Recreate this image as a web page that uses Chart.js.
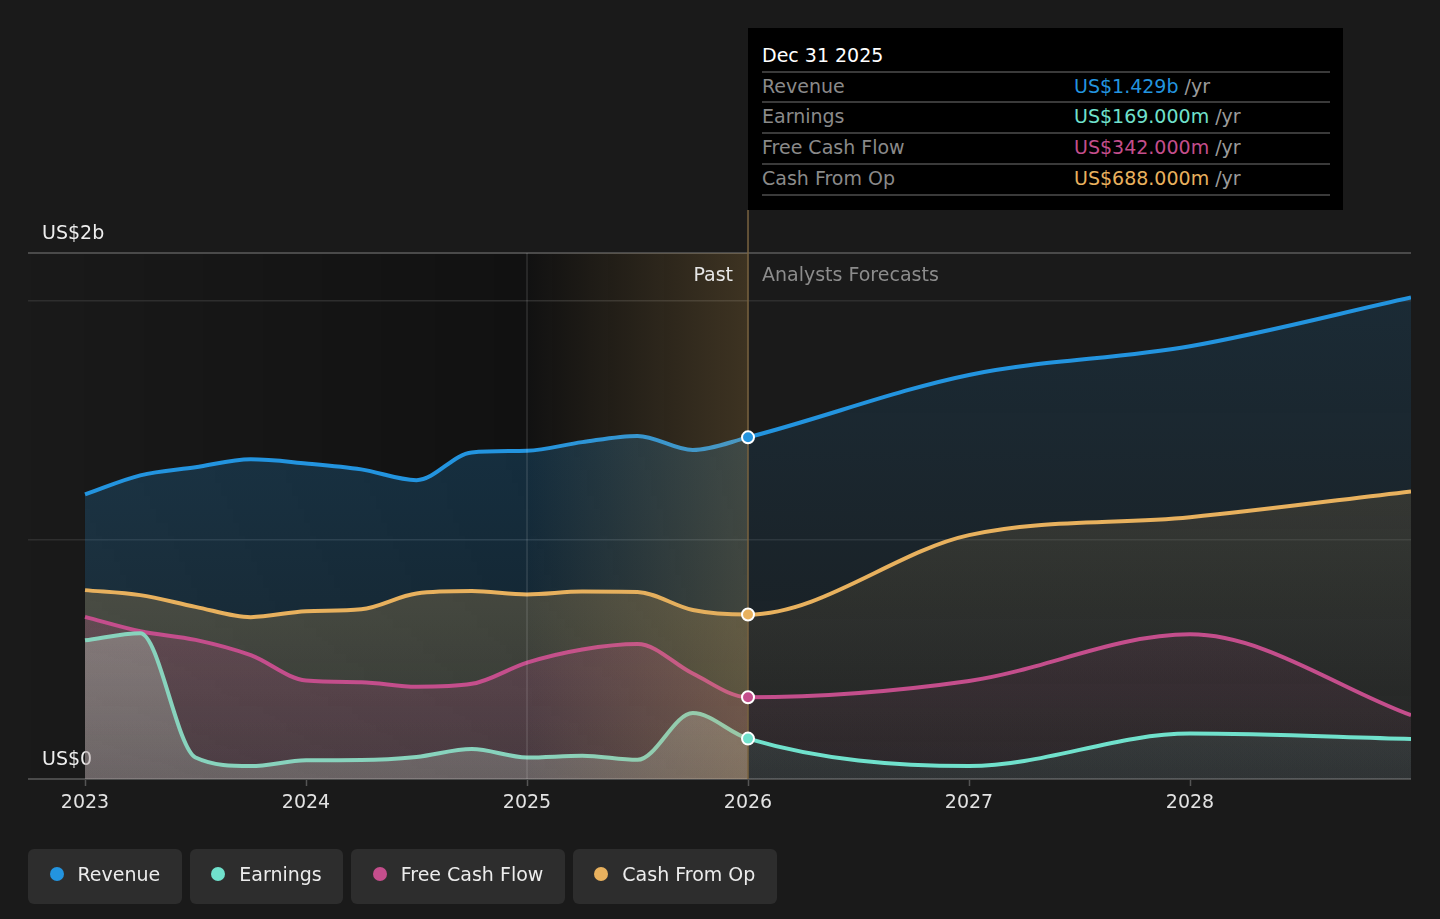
<!DOCTYPE html>
<html>
<head>
<meta charset="utf-8">
<script src="https://cdn.jsdelivr.net/npm/chart.js@4.4.1/dist/chart.umd.min.js"></script>
<style>
  html, body { margin:0; padding:0; background:#1a1a1a; width:1440px; height:919px; overflow:hidden; font-family:"DejaVu Sans", sans-serif; }
  #wrap { position:relative; width:1440px; height:919px; }
  #c { position:absolute; left:0; top:0; }
  .lbl { position:absolute; height:24px; line-height:24px; font-size:19px; white-space:nowrap; }
  #tip { position:absolute; left:748px; top:28px; width:595px; height:182px; background:#000; }
  #tip .sep { position:absolute; left:14px; width:568px; height:2px; background:#3a3a3a; }
  #tip .name { color:#8a8a8a; }
  #tip .unit { color:#9a9a9a; }
  #legend { position:absolute; left:28px; top:849px; display:flex; gap:8px; }
  .item { height:55px; box-sizing:border-box; display:flex; align-items:center; padding:0 21.5px 5px 21.5px; background:#2d2d2d; border-radius:6px; color:#ececec; font-size:19px; }
  .dot { width:14px; height:14px; border-radius:50%; margin-right:14px; }
</style>
</head>
<body>
<div id="wrap">
  <canvas id="c" width="1440" height="919"></canvas>
  <div class="lbl" id="pastLbl" style="right:707px; top:262px; color:#e6e6e6;">Past</div>
  <div class="lbl" id="foreLbl" style="left:762px; top:262px; color:#8c8c8c;">Analysts Forecasts</div>
  <div id="tip"></div>
  <div id="legend"></div>
</div>
<script>
// ---------- data (US$ billions) ----------
const periods      = [2023, 2023.25, 2023.5, 2023.75, 2024, 2024.25, 2024.5, 2024.75, 2025, 2025.25, 2025.5, 2025.75, 2026, 2027, 2028, 2029];
const revenue      = [1.19, 1.27, 1.304, 1.337, 1.32, 1.295, 1.25, 1.366, 1.373, 1.409, 1.435, 1.376, 1.429, 1.69, 1.81, 2.014];
const earnings     = [0.58, 0.61, 0.09, 0.054, 0.078, 0.079, 0.092, 0.125, 0.09, 0.097, 0.08, 0.276, 0.169, 0.054, 0.19, 0.167];
const freeCashFlow = [0.678, 0.618, 0.582, 0.518, 0.412, 0.405, 0.386, 0.398, 0.487, 0.542, 0.565, 0.441, 0.342, 0.41, 0.605, 0.267];
const cashFromOp   = [0.79, 0.769, 0.72, 0.677, 0.702, 0.71, 0.776, 0.786, 0.772, 0.784, 0.782, 0.707, 0.688, 1.02, 1.095, 1.203];
const seriesNames  = ['Revenue', 'Earnings', 'Free Cash Flow', 'Cash From Op'];
const xTicks       = [2023, 2024, 2025, 2026, 2027, 2028];
const yTicks       = [0, 1, 2, 2.2];
const yTickLabels  = { 0: 'US$0', 2.2: 'US$2b' };
const pastStart    = 2025;
const forecastStart = 2026;
const tooltipDate  = 'Dec 31 2025';

// ---------- styles ----------
const colors = { 'Revenue':'#2394df', 'Earnings':'#70e1cc', 'Free Cash Flow':'#c44e8c', 'Cash From Op':'#e8b15e' };
const pastLineColors = { 'Earnings':'#88d3bd' };
const fillSpec = {
  'Revenue':        { past:[35,148,223], pt:0.28, pb:0.12, fore:[35,148,223], ft:0.15, fb:0.04 },
  'Cash From Op':   { past:[232,177,94], pt:0.38, pb:0.14, fore:[232,177,94], ft:0.2,  fb:0.04 },
  'Free Cash Flow': { past:[196,78,140], pt:0.36, pb:0.15, fore:[196,78,140], ft:0.2,  fb:0.06 },
  'Earnings':       { past:[196,210,196], pt:0.56, pb:0.26, fore:[112,225,204], ft:0.2,  fb:0.07 }
};
const orders = { 'Revenue':4, 'Cash From Op':3, 'Free Cash Flow':2, 'Earnings':1 };
const valuesByName = { 'Revenue':revenue, 'Earnings':earnings, 'Free Cash Flow':freeCashFlow, 'Cash From Op':cashFromOp };

const rgba = (c, a) => `rgba(${c[0]},${c[1]},${c[2]},${a})`;
const patternCache = {};
function makeFill(chart, name) {
  const a = chart.chartArea;
  if (!a || !chart.scales.x) return 'rgba(0,0,0,0)';
  const key = name + a.left + a.top + a.right + a.bottom;
  if (patternCache[key]) return patternCache[key];
  const s = fillSpec[name];
  const c = document.createElement('canvas');
  c.width = chart.width; c.height = chart.height;
  const g = c.getContext('2d');
  const xs = chart.scales.x.getPixelForValue(forecastStart);
  const gp = g.createLinearGradient(0, a.top, 0, a.bottom);
  gp.addColorStop(0, rgba(s.past, s.pt)); gp.addColorStop(1, rgba(s.past, s.pb));
  g.fillStyle = gp; g.fillRect(0, 0, xs, c.height);
  const gf = g.createLinearGradient(0, a.top, 0, a.bottom);
  gf.addColorStop(0, rgba(s.fore, s.ft)); gf.addColorStop(1, rgba(s.fore, s.fb));
  g.fillStyle = gf; g.fillRect(xs, 0, c.width - xs, c.height);
  const p = chart.ctx.createPattern(c, 'no-repeat');
  patternCache[key] = p;
  return p;
}

function lineDataset(name) {
  const vals = valuesByName[name];
  const ds = {
    label: name,
    data: periods.map((x, i) => ({ x, y: vals[i] })),
    borderColor: colors[name],
    borderWidth: 4,
    pointRadius: 0,
    pointHoverRadius: 0,
    cubicInterpolationMode: 'monotone',
    fill: 'origin',
    order: orders[name],
    backgroundColor: (ctx) => makeFill(ctx.chart, name)
  };
  if (pastLineColors[name]) {
    ds.segment = { borderColor: ctx => ctx.p1.parsed.x <= forecastStart ? pastLineColors[name] : undefined };
  }
  return ds;
}

const idxNow = periods.indexOf(forecastStart);
const markerDataset = {
  label: 'markers',
  data: seriesNames.map(n => ({ x: forecastStart, y: valuesByName[n][idxNow] })),
  showLine: false,
  fill: false,
  pointRadius: 6,
  pointHoverRadius: 6,
  pointBorderWidth: 2,
  pointBorderColor: '#ffffff',
  pointBackgroundColor: seriesNames.map(n => colors[n]),
  order: 0
};

const bandsPlugin = {
  id: 'bands',
  beforeDraw(chart) {
    const { ctx, chartArea: a, scales: { x } } = chart;
    const x1 = x.getPixelForValue(pastStart), x2 = x.getPixelForValue(forecastStart);
    ctx.save();
    const g = ctx.createLinearGradient(a.left, 0, x1, 0);
    g.addColorStop(0, 'rgba(0,0,0,0)');
    g.addColorStop(1, 'rgba(0,0,0,0.33)');
    ctx.fillStyle = g;
    ctx.fillRect(a.left, a.top, x1 - a.left, a.bottom - a.top);
    ctx.fillStyle = 'rgba(0,0,0,0.33)';
    ctx.fillRect(x1, a.top, x2 - x1, a.bottom - a.top);
    ctx.restore();
  },
  afterDatasetDraw(chart, args) {
    if (chart.data.datasets[args.index].label !== 'Earnings') return;
    const { ctx, chartArea: a, scales: { x } } = chart;
    const x1 = x.getPixelForValue(pastStart), x2 = x.getPixelForValue(forecastStart);
    ctx.save();
    const g = ctx.createLinearGradient(x1, 0, x2, 0);
    g.addColorStop(0, 'rgba(210,165,90,0.0)');
    g.addColorStop(1, 'rgba(210,165,90,0.23)');
    ctx.fillStyle = g;
    ctx.fillRect(x1, a.top, x2 - x1, a.bottom - a.top);
    ctx.lineWidth = 1.5;
    ctx.strokeStyle = 'rgba(255,255,255,0.13)';
    ctx.beginPath(); ctx.moveTo(x1, a.top); ctx.lineTo(x1, a.bottom); ctx.stroke();
    ctx.strokeStyle = '#7a6340';
    ctx.beginPath(); ctx.moveTo(x2, 210); ctx.lineTo(x2, a.bottom); ctx.stroke();
    ctx.restore();
  }
};

Chart.defaults.font.family = '"DejaVu Sans", sans-serif';
Chart.defaults.font.size = 19;

new Chart(document.getElementById('c'), {
  type: 'line',
  data: { datasets: [markerDataset].concat(seriesNames.map(lineDataset)) },
  options: {
    responsive: false,
    maintainAspectRatio: false,
    animation: false,
    events: [],
    layout: { padding: { left: 28, right: 29, top: 253, bottom: 100 } },
    plugins: {
      legend: { display: false },
      tooltip: { enabled: false },
      filler: { drawTime: 'beforeDatasetsDraw' }
    },
    scales: {
      x: {
        type: 'linear', min: 2022.742, max: 2029,
        afterBuildTicks: s => { s.ticks = xTicks.map(v => ({ value: v })); },
        afterFit: s => { s.height = 40; },
        ticks: { callback: v => String(v), color: '#e2e2e2', padding: 6, maxRotation: 0, autoSkip: false, font: { size: 19 } },
        grid: { drawOnChartArea: false, drawTicks: true, tickLength: 7, tickColor: '#555555', tickWidth: 1.5 },
        border: { display: false }
      },
      y: {
        type: 'linear', min: 0, max: 2.2,
        afterBuildTicks: s => { s.ticks = yTicks.map(v => ({ value: v })); },
        afterFit: s => { s.width = 0; },
        ticks: { mirror: true, padding: 14, labelOffset: -19, color: '#eeeeee', callback: v => yTickLabels[v] || '', font: { size: 19 } },
        grid: {
          drawTicks: false,
          color: c => (c.tick && (c.tick.value === 0 || c.tick.value === 2.2)) ? '#4a4a4a' : '#2e2e2e',
          lineWidth: c => (c.tick && (c.tick.value === 0 || c.tick.value === 2.2)) ? 2 : 1.5
        },
        border: { display: false }
      }
    }
  },
  plugins: [bandsPlugin]
});

// ---------- tooltip (HTML text) ----------
const tip = document.getElementById('tip');
const fmt = (name, v) => name === 'Revenue' ? 'US$' + v.toFixed(3) + 'b' : 'US$' + (v * 1000).toFixed(3) + 'm';
let html = '<div class="lbl" style="left:14px; top:15px; color:#ffffff;">' + tooltipDate + '</div>';
const seps = [44, 74, 105, 136, 167];
seps.forEach(y => { html += '<div class="sep" style="top:' + (y - 1) + 'px"></div>'; });
seriesNames.forEach((n, i) => {
  const top = seps[i] + 2;
  html += '<div class="lbl name" style="left:14px; top:' + top + 'px;">' + n + '</div>';
  html += '<div class="lbl" style="left:326px; top:' + top + 'px;"><span style="color:' + colors[n] + '">' + fmt(n, valuesByName[n][idxNow]) + '</span><span class="unit"> /yr</span></div>';
});
tip.innerHTML = html;

// ---------- legend (HTML text) ----------
document.getElementById('legend').innerHTML = seriesNames.map(n =>
  '<div class="item"><span class="dot" style="background:' + colors[n] + '"></span>' + n + '</div>').join('');
</script>
</body>
</html>
